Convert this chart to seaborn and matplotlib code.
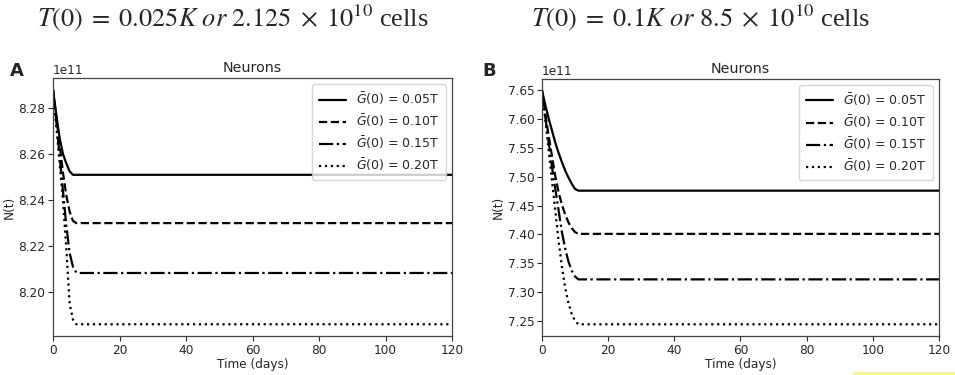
import pandas as pd
import matplotlib as mpl
import matplotlib.pyplot as plt
import seaborn as sns

# time points (days) and N(t) values in units of 1e11
time_a = [0, 1, 2, 3, 4, 5, 6, 7, 8, 120]
a_005 = [8.288, 8.277, 8.267, 8.260, 8.256, 8.2525, 8.251, 8.251, 8.251, 8.251]
a_010 = [8.288, 8.276, 8.264, 8.252, 8.242, 8.235, 8.231, 8.230, 8.230, 8.230]
a_015 = [8.288, 8.274, 8.259, 8.244, 8.229, 8.217, 8.211, 8.2085, 8.2083, 8.2083]
a_020 = [8.288, 8.272, 8.256, 8.240, 8.219, 8.195, 8.188, 8.186, 8.186, 8.186]

time_b = [0, 1, 2, 3, 4, 5, 6, 7, 8, 9, 10, 11, 120]
b_005 = [7.650, 7.625, 7.602, 7.581, 7.560, 7.542, 7.526, 7.511, 7.499, 7.488, 7.479, 7.476, 7.476]
b_010 = [7.650, 7.610, 7.572, 7.537, 7.502, 7.474, 7.452, 7.435, 7.421, 7.411, 7.404, 7.401, 7.401]
b_015 = [7.650, 7.605, 7.561, 7.519, 7.480, 7.443, 7.405, 7.376, 7.353, 7.337, 7.327, 7.322, 7.322]
b_020 = [7.650, 7.600, 7.548, 7.495, 7.443, 7.390, 7.345, 7.308, 7.281, 7.262, 7.250, 7.244, 7.244]

labels = [r"$\bar{G}(0)$ = 0.05T", r"$\bar{G}(0)$ = 0.10T",
          r"$\bar{G}(0)$ = 0.15T", r"$\bar{G}(0)$ = 0.20T"]
styles = ["-", "--", "-.", ":"]

sns.set_style("white")
mpl.rcParams["font.family"] = ["DejaVu Sans"]
mpl.rcParams["mathtext.fontset"] = "dejavusans"


def draw_panel(ax, t, series):
    for vals, lab, ls in zip(series, labels, styles):
        df = pd.DataFrame({"t": t, "N": [v * 1e11 for v in vals]})
        sns.lineplot(data=df, x="t", y="N", ax=ax, color="black",
                     linestyle=ls, linewidth=1.6, label=lab)
    ax.set_xlim(0, 120)
    ax.set_title("Neurons", fontsize=10.3, pad=4)
    ax.set_xlabel("Time (days)", fontsize=8.7, labelpad=1)
    ax.set_ylabel("N(t)", fontsize=8.7, labelpad=2)
    ax.tick_params(axis="both", labelsize=8.7, length=3.5, width=0.8,
                   direction="out", bottom=True, left=True, pad=2)
    ax.yaxis.get_offset_text().set_fontsize(8.7)
    for sp in ax.spines.values():
        sp.set_color("#444444")
        sp.set_linewidth(0.9)
    leg = ax.legend(loc="upper right", fontsize=9, frameon=True,
                    handlelength=2.2, borderpad=0.5, labelspacing=0.45)
    leg.get_frame().set_edgecolor("#cccccc")


fig = plt.figure(figsize=(9.55, 3.75), dpi=100)
ax_a = fig.add_axes([0.0555, 0.104, 0.4178, 0.688])
ax_b = fig.add_axes([0.5675, 0.104, 0.4157, 0.686])

draw_panel(ax_a, time_a, [a_005, a_010, a_015, a_020])
draw_panel(ax_b, time_b, [b_005, b_010, b_015, b_020])

title_kw = dict(fontsize=19, ha="center", va="baseline", family="Liberation Serif")
mpl.rcParams["mathtext.fontset"] = "stix"
fig.text(0.244, 0.93, r"$T(0)\;=\;0.025K\ or\ 2.125\;\times\;10^{10}$ cells", **title_kw)
fig.text(0.733, 0.93, r"$T(0)\;=\;0.1K\ or\ 8.5\;\times\;10^{10}$ cells", **title_kw)

fig.text(0.010, 0.796, "A", fontsize=13, fontweight="bold")
fig.text(0.505, 0.796, "B", fontsize=13, fontweight="bold")

# yellow highlight strip at the bottom right of the reference
fig.add_artist(mpl.patches.Rectangle((0.893, 0.0), 0.107, 0.008,
                                     transform=fig.transFigure,
                                     color="#ffff55", lw=0))

fig.savefig("out.png", dpi=100)
